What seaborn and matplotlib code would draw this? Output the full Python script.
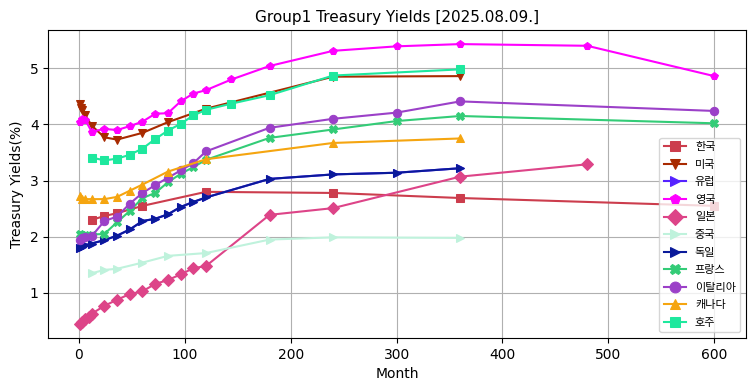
import matplotlib
matplotlib.use("Agg")
import matplotlib.pyplot as plt
import seaborn as sns

# maturities in months / yields in %
kr_months = [12, 24, 36, 60, 120, 240, 360, 600]
kr_yields = [2.30, 2.37, 2.42, 2.55, 2.80, 2.78, 2.69, 2.55]

us_months = [1, 2, 3, 6, 12, 24, 36, 60, 84, 120, 240, 360]
us_yields = [4.36, 4.30, 4.25, 4.16, 3.98, 3.77, 3.73, 3.85, 4.04, 4.28, 4.85, 4.86]

uk_months = [1, 3, 6, 12, 24, 36, 48, 60, 72, 84, 96, 108, 120, 144, 180, 240, 300, 360, 480, 600]
uk_yields = [4.04, 4.09, 4.08, 3.87, 3.92, 3.90, 3.97, 4.05, 4.19, 4.20, 4.41, 4.55, 4.61, 4.80,
             5.04, 5.31, 5.39, 5.43, 5.40, 4.86]

jp_months = [1, 3, 6, 9, 12, 24, 36, 48, 60, 72, 84, 96, 108, 120, 180, 240, 360, 480]
jp_yields = [0.45, 0.48, 0.53, 0.58, 0.63, 0.77, 0.88, 0.98, 1.03, 1.16, 1.23, 1.33, 1.44, 1.48,
             2.39, 2.51, 3.07, 3.29]

cn_months = [12, 24, 36, 60, 84, 120, 180, 240, 360]
cn_yields = [1.35, 1.41, 1.43, 1.54, 1.66, 1.71, 1.95, 1.99, 1.98]

de_months = [1, 3, 6, 12, 24, 36, 48, 60, 72, 84, 96, 108, 120, 180, 240, 300, 360]
de_yields = [1.80, 1.82, 1.85, 1.88, 1.94, 2.02, 2.13, 2.28, 2.32, 2.40, 2.53, 2.62, 2.70,
             3.03, 3.11, 3.14, 3.22]

# EU curve is the same as the bund curve, hidden under it
eu_months = de_months
eu_yields = de_yields

fr_months = [1, 3, 6, 12, 24, 36, 48, 60, 72, 84, 96, 108, 120, 180, 240, 300, 360, 600]
fr_yields = [2.05, 2.03, 2.03, 2.04, 2.05, 2.26, 2.46, 2.69, 2.78, 2.97, 3.12, 3.24, 3.37,
             3.76, 3.91, 4.06, 4.15, 4.02]

it_months = [1, 3, 6, 12, 24, 36, 48, 60, 72, 84, 96, 108, 120, 180, 240, 300, 360, 600]
it_yields = [1.95, 1.98, 2.00, 2.01, 2.28, 2.36, 2.59, 2.78, 2.92, 3.05, 3.18, 3.31, 3.52,
             3.94, 4.10, 4.21, 4.41, 4.24]

ca_months = [1, 3, 6, 12, 24, 36, 48, 60, 84, 120, 240, 360]
ca_yields = [2.73, 2.68, 2.67, 2.67, 2.67, 2.71, 2.82, 2.93, 3.16, 3.38, 3.67, 3.75]

au_months = [12, 24, 36, 48, 60, 72, 84, 96, 108, 120, 144, 180, 240, 360]
au_yields = [3.41, 3.36, 3.39, 3.46, 3.57, 3.74, 3.89, 4.01, 4.16, 4.26, 4.37, 4.52, 4.87, 4.98]

series = [
    ("한국", kr_months, kr_yields, "#cc3d4d", "s"),
    ("미국", us_months, us_yields, "#a82a00", "v"),
    ("유럽", eu_months, eu_yields, "#5522ff", ">"),
    ("영국", uk_months, uk_yields, "#ff00ff", "p"),
    ("일본", jp_months, jp_yields, "#dd4488", "D"),
    ("중국", cn_months, cn_yields, "#bff2dc", ">"),
    ("독일", de_months, de_yields, "#0a1a9a", ">"),
    ("프랑스", fr_months, fr_yields, "#33cc77", "X"),
    ("이탈리아", it_months, it_yields, "#9b40c8", "o"),
    ("캐나다", ca_months, ca_yields, "#f5a510", "^"),
    ("호주", au_months, au_yields, "#1ee89e", "s"),
]

plt.rcParams['font.family'] = ['DejaVu Sans', 'Noto Sans CJK KR']

fig, ax = plt.subplots(figsize=(7.55, 3.91), dpi=100)

for name, months, ylds, color, marker in series:
    sns.lineplot(x=months, y=ylds, ax=ax, label=name, color=color, marker=marker,
                 markersize=6, markeredgecolor=color, linewidth=1.5)

ax.set_title("Group1 Treasury Yields [2025.08.09.]", fontsize=11)
ax.set_xlabel("Month")
ax.set_ylabel("Treasury Yields(%)")
ax.grid(True)
ax.legend(loc="lower right", fontsize=8, markerscale=1.3, labelspacing=0.68,
          borderaxespad=0.5)

fig.subplots_adjust(left=0.064, right=0.988, top=0.923, bottom=0.136)
fig.savefig("out.png", dpi=100)
